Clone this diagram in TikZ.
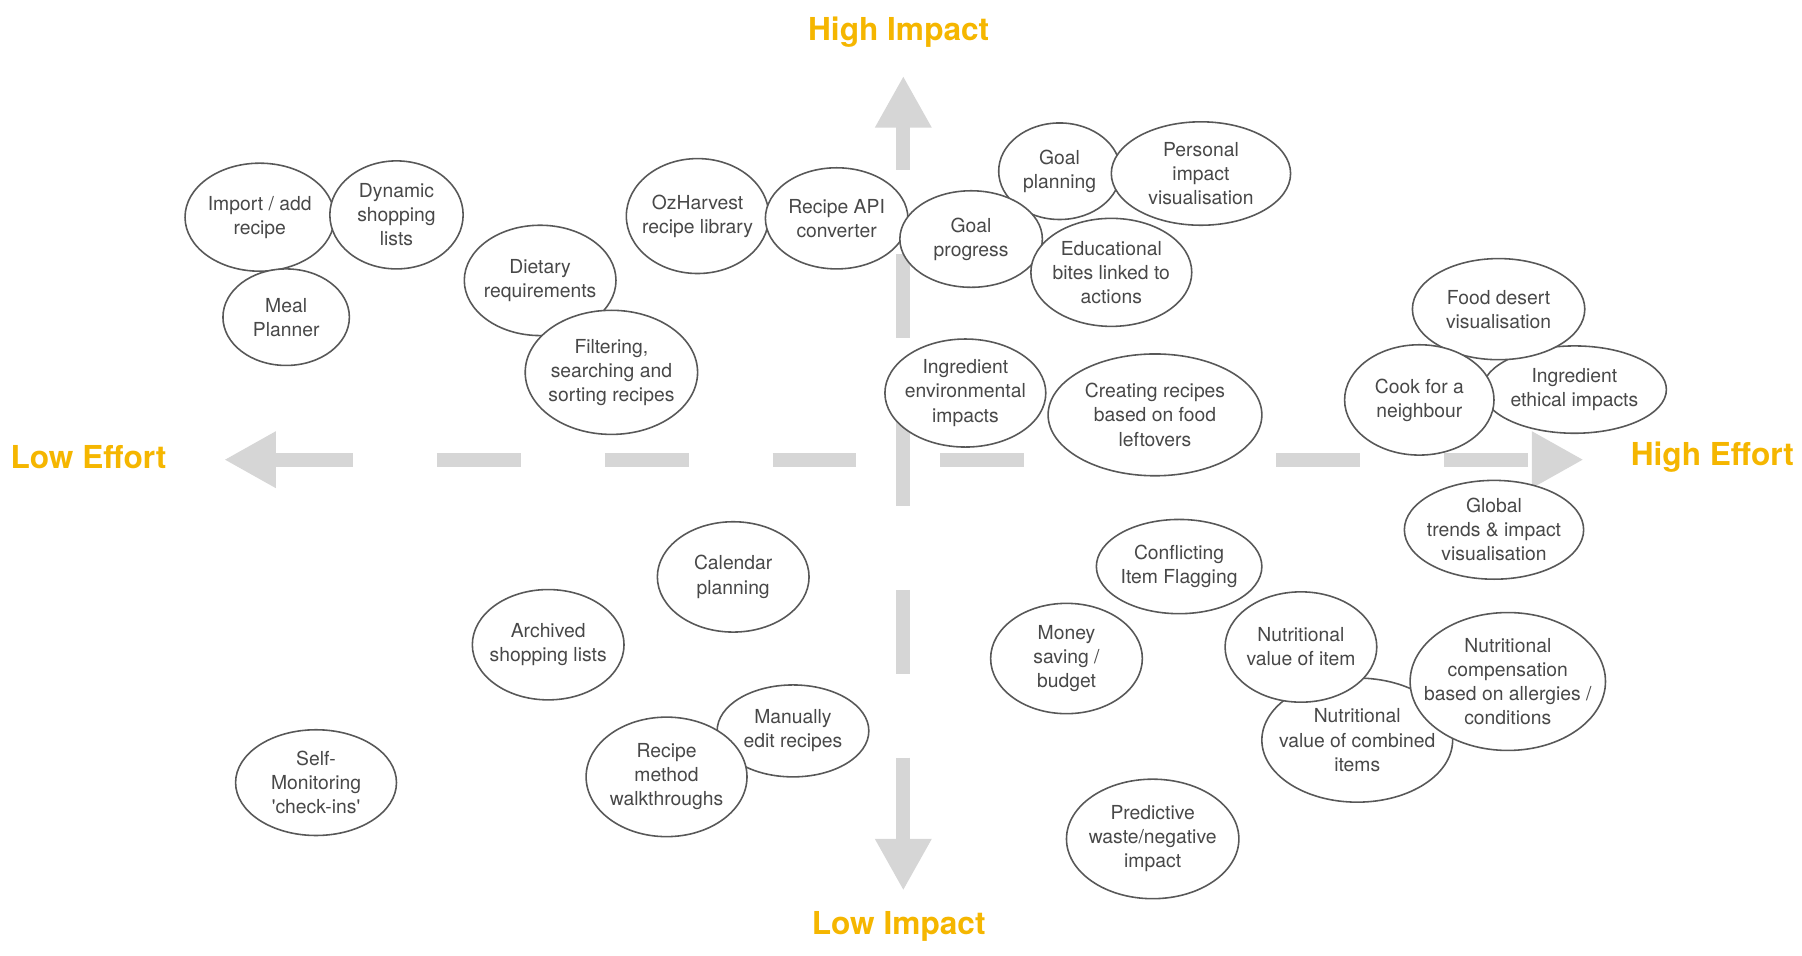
\documentclass[tikz,border=0pt]{standalone}
\usepackage{fontspec}
\setmainfont{TeX Gyre Heros}
\usepackage{xcolor}
\usepackage{tikz}
\usetikzlibrary{shapes.geometric, arrows.meta}

\definecolor{axisgray}{RGB}{214,214,214}
\definecolor{labelgold}{RGB}{245,182,0}
\definecolor{ringgray}{RGB}{88,88,88}
\definecolor{txtgray}{RGB}{72,72,72}

\begin{document}
\begin{tikzpicture}[
    x=0.023cm, y=-0.023cm,
    idea/.style={ellipse, draw=ringgray, line width=0.9pt, fill=white, inner sep=-1.2cm, align=center, text=txtgray, font=\fontsize{11}{13.7}\selectfont},
    sz/.style 2 args={minimum width=2*#1*0.023cm, minimum height=2*#2*0.023cm},
    axis/.style={draw=axisgray, line width=0.276cm, dash pattern=on 1.679cm off 1.679cm,
        {Triangle[length=1.035cm, width=1.058cm, fill=axisgray]}-{Triangle[length=1.035cm, width=1.058cm, fill=axisgray]}},
    axislabel/.style={text=labelgold, font=\fontsize{18}{20}\selectfont\bfseries}
]
\useasboundingbox (0,0) rectangle (1568,831);

% Axes
\coordinate (etip) at (1378,400);
\coordinate (wtip) at (195,400);
\coordinate (ntip) at (786,66);
\coordinate (stip) at (786,775);
\draw[axis, dash phase=0.759cm] (ntip) -- (stip);
\draw[axis, dash phase=0.07cm] (wtip) -- (etip);

\node[axislabel] (himp) at (782,28) {High Impact};
\node[axislabel] (limp) at (782,806) {Low Impact};
\node[axislabel] (leff) at (77,398) {Low Effort};
\node[axislabel] (heff) at (1490,398) {High Effort};

% Low effort, high impact
\node[idea, sz={65}{47}] (imp) at (226,189) {Import / add\\recipe};
\node[idea, sz={58}{47}] (dyn) at (345,187) {Dynamic\\shopping\\lists};
\node[idea, sz={55}{42}] (meal) at (249,276) {Meal\\Planner};
\node[idea, sz={66}{48}] (diet) at (470,244) {Dietary\\requirements};
\node[idea, sz={75}{54}] (filt) at (532,324) {Filtering,\\searching and\\sorting recipes};
\node[idea, sz={62}{50}] (ozh) at (607,188) {OzHarvest\\recipe library};
\node[idea, sz={62}{44}] (api) at (728,190) {Recipe API\\converter};

% High effort, high impact
\node[idea, sz={53}{42}] (gplan) at (922,149) {Goal\\planning};
\node[idea, sz={78}{45}] (pers) at (1045,151) {Personal\\impact\\visualisation};
\node[idea, sz={62}{42}] (gprog) at (845,208) {Goal\\progress};
\node[idea, sz={70}{47}] (edu) at (967,237) {Educational\\bites linked to\\actions};
\node[idea, sz={70}{47}] (ienv) at (840,342) {Ingredient\\environmental\\impacts};
\node[idea, sz={93}{53}] (creat) at (1005,361) {Creating recipes\\based on food\\leftovers};
\node[idea, sz={80}{38}] (ieth) at (1370,339) {Ingredient\\ethical impacts};
\node[idea, sz={75}{44}] (fdes) at (1304,269) {Food desert\\visualisation};
\node[idea, sz={65}{48}] (cook) at (1235,348) {Cook for a\\neighbour};

% High effort, low impact
\node[idea, sz={78}{43}] (glob) at (1300,461) {Global\\trends \& impact\\visualisation};
\node[idea, sz={72}{41}] (confl) at (1026,493) {Conflicting\\Item Flagging};
\node[idea, sz={66}{48}] (money) at (928,573) {Money\\saving /\\budget};
\node[idea, sz={83}{54}] (ncomb) at (1181,644) {Nutritional\\value of combined\\items};
\node[idea, sz={66}{48}] (nitem) at (1132,563) {Nutritional\\value of item};
\node[idea, sz={85}{60}] (ncomp) at (1312,593) {Nutritional\\compensation\\based on allergies /\\conditions};
\node[idea, sz={75}{52}] (pred) at (1003,730) {Predictive\\waste/negative\\impact};

% Low effort, low impact
\node[idea, sz={66}{48}] (cal) at (638,502) {Calendar\\planning};
\node[idea, sz={66}{48}] (arch) at (477,561) {Archived\\shopping lists};
\node[idea, sz={66}{40}] (edit) at (690,636) {Manually\\edit recipes};
\node[idea, sz={70}{52}] (walk) at (580,676) {Recipe\\method\\walkthroughs};
\node[idea, sz={70}{46}] (self) at (275,681) {Self-\\Monitoring\\\textquotesingle check-ins\textquotesingle};

\end{tikzpicture}
\end{document}
